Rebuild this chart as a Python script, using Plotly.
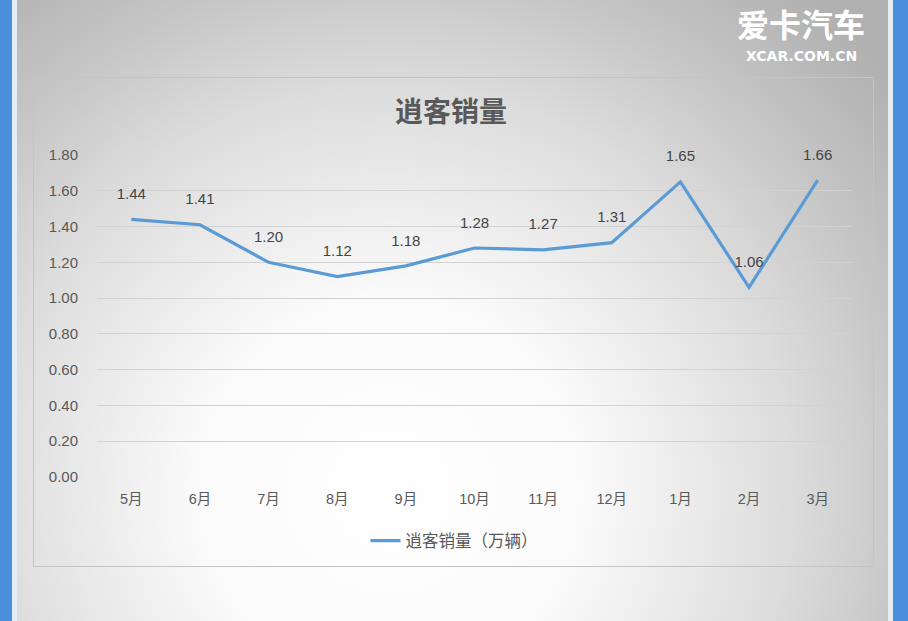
import base64
import plotly.graph_objects as go

months = ["5月", "6月", "7月", "8月", "9月", "10月", "11月", "12月", "1月", "2月", "3月"]
sales = [1.44, 1.41, 1.20, 1.12, 1.18, 1.28, 1.27, 1.31, 1.65, 1.06, 1.66]
y_ticks = [0.0, 0.2, 0.4, 0.6, 0.8, 1.0, 1.2, 1.4, 1.6, 1.8]

W, H = 908, 621
L, R, T, B = 97, 56, 155, 144
pw, ph = W - L - R, H - T - B

svg = f'''<svg xmlns="http://www.w3.org/2000/svg" width="{W}" height="{H}" viewBox="0 0 {W} {H}">
<defs>
<radialGradient id="g" gradientUnits="userSpaceOnUse" cx="390" cy="490" r="650" fx="390" fy="490">
<stop offset="0" stop-color="#ffffff"/>
<stop offset="0.3" stop-color="#fafafa"/>
<stop offset="0.62" stop-color="#dcdcdc"/>
<stop offset="0.8" stop-color="#c6c6c6"/>
<stop offset="1" stop-color="#b0b0b0"/>
</radialGradient>
</defs>
<rect x="0" y="0" width="{W}" height="{H}" fill="url(#g)"/>
<rect x="0" y="0" width="12" height="{H}" fill="#4a8fdb"/>
<rect x="12" y="0" width="5" height="{H}" fill="#e6edf5"/>
<rect x="888" y="0" width="5" height="{H}" fill="#e6edf5"/>
<rect x="893" y="0" width="15" height="{H}" fill="#4a8fdb"/>
<rect x="33.5" y="77.5" width="840" height="489" fill="none" stroke="#c4c4c4" stroke-width="1"/>
</svg>'''
src = "data:image/svg+xml;base64," + base64.b64encode(svg.encode()).decode()

font = "Liberation Sans, Noto Sans CJK SC, sans-serif"
cjk = "Noto Sans CJK SC, sans-serif"

fig = go.Figure()
fig.add_trace(go.Scatter(
    x=months, y=sales, mode="lines",
    name="逍客销量（万辆）",
    line=dict(color="#5b9bd5", width=3.2),
))
fig.add_trace(go.Scatter(
    x=months, y=sales, mode="markers+text", showlegend=False, hoverinfo="skip",
    marker=dict(size=25, opacity=0),
    text=[f"{v:.2f}" for v in sales],
    textposition="top center",
    textfont=dict(size=15, color="#454545", family=font),
    cliponaxis=False,
))

fig.update_layout(
    width=W, height=H,
    margin=dict(l=L, r=R, t=T, b=B),
    paper_bgcolor="rgba(0,0,0,0)",
    plot_bgcolor="rgba(0,0,0,0)",
    font=dict(family=font, color="#595959", size=14),
    showlegend=True,
    legend=dict(orientation="h", xref="container", yref="container",
                x=0.5, xanchor="center", y=1 - 541 / H, yanchor="middle",
                bgcolor="rgba(0,0,0,0)", font=dict(size=16.5, color="#595959", family=cjk)),
    xaxis=dict(range=[-0.5, 10.5], showgrid=False, zeroline=False, showline=False,
               ticks="", ticklabelstandoff=11,
               tickfont=dict(size=14.5, color="#595959", family=font)),
    yaxis=dict(range=[0, 1.8], tickvals=y_ticks, tickformat=".2f",
               showgrid=True, gridcolor="#d2d2d2", gridwidth=1,
               zeroline=False, showline=False, ticks="", ticklen=0,
               ticklabelstandoff=18,
               tickfont=dict(size=15, color="#595959", family=font)),
    images=[dict(source=src, xref="paper", yref="paper",
                 x=-L / pw, y=1 + T / ph, sizex=W / pw, sizey=H / ph,
                 xanchor="left", yanchor="top", sizing="stretch", layer="below")],
    annotations=[
        dict(text="<b>逍客销量</b>", xref="paper", yref="paper",
             x=(451 - L) / pw, y=1 + (T - 110) / ph, xanchor="center", yanchor="middle",
             showarrow=False, font=dict(size=28, color="#595959", family=cjk)),
        dict(text="<b>爱卡汽车</b>", xref="paper", yref="paper", borderpad=0,
             x=(801 - L) / pw, y=1 + (T - 47) / ph, xanchor="center", yanchor="bottom",
             showarrow=False, font=dict(size=32, color="#ffffff", family=cjk)),
        dict(text="<b>XCAR.COM.CN</b>", xref="paper", yref="paper", borderpad=0,
             x=(801 - L) / pw, y=1 + (T - 47) / ph, xanchor="center", yanchor="top",
             showarrow=False, font=dict(size=14, color="#ffffff", family="DejaVu Sans, sans-serif")),
    ],
)
fig.write_html("out.html", config={"displayModeBar": False},
               post_script="document.body.style.margin='0';document.body.style.overflow='hidden';")
